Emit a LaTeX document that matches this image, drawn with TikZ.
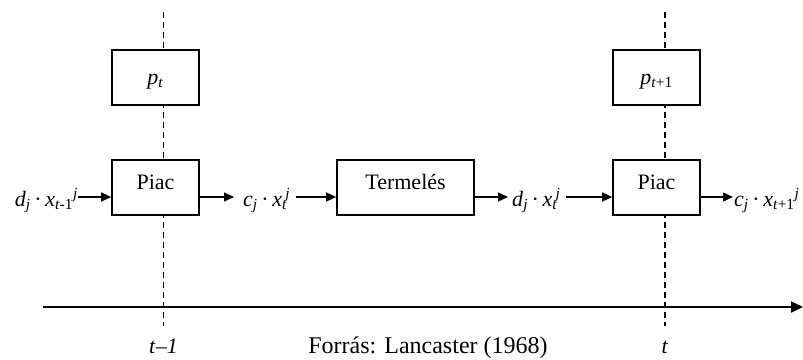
\documentclass[tikz,border=0pt]{standalone}
\usepackage{fontspec}
\setmainfont{Liberation Serif}
\usetikzlibrary{arrows.meta}
\newcommand{\ii}[1]{\textit{#1}}
\newcommand{\sdot}{\,·\,}
\begin{document}
\begin{tikzpicture}[x=1pt,y=-1pt,
  box/.style={draw,line width=1.7pt,fill=white,minimum width=87pt,minimum height=55pt,inner sep=0pt},
  txt/.style={inner sep=0pt,font=\fontsize{22}{26}\selectfont},
  srcfont/.style={inner sep=0pt,font=\fontsize{24}{28}\selectfont},
  arr/.style={-{Triangle[length=10pt,width=9pt]},line width=1.4pt},
  axisarr/.style={-{Triangle[length=12pt,width=11pt]},line width=1.9pt},
  vline/.style={line width=1.6pt,dash pattern=on 6pt off 4pt}]
\useasboundingbox (0,0) rectangle (803,359);
% vertical dashed time marks
\coordinate (v1t) at (163.5,12); \coordinate (v1b) at (163.5,326);
\coordinate (v2t) at (665,12);   \coordinate (v2b) at (665,326);
\draw[vline] (v1t) -- (v1b);
\draw[vline] (v2t) -- (v2b);
% boxes
\node[box] (pt)    at (155.5,77.5) {};
\node[box] (piac1) at (155.5,187.5) {};
\node[box,minimum width=137pt] (term) at (405.5,187.5) {};
\node[box] (pt1)   at (656.5,77.5) {};
\node[box] (piac2) at (656.5,187.5) {};
% box texts
\node[txt,anchor=base] (ptl)   at (155.5,84) {\ii{p}\textsubscript{\ii{t}}};
\node[txt,anchor=base] (pt1l)  at (656.5,84) {\ii{p}\textsubscript{\ii{t}+1}};
\node[txt,anchor=base] (p1l)   at (155.5,189) {Piac};
\node[txt,anchor=base] (terml) at (405.5,189) {Termelés};
\node[txt,anchor=base] (p2l)   at (656.5,189) {Piac};
% flow labels
\node[txt,anchor=base east] (d1) at (78,206) {\ii{d}\textsubscript{\ii{j}}\sdot\ii{x}\textsubscript{\ii{t}-1}\textsuperscript{\ii{j}}};
\node[txt,anchor=base west] (c1) at (243,206) {\ii{c}\textsubscript{\ii{j}}\sdot\ii{x}\textsubscript{\ii{t}}\kern-2pt\textsuperscript{\ii{j}}};
\node[txt,anchor=base west] (d2) at (512,206) {\ii{d}\textsubscript{\ii{j}}\sdot\ii{x}\textsubscript{\ii{t}}\kern-2pt\textsuperscript{\ii{j}}};
\node[txt,anchor=base west] (c2) at (734,206) {\ii{c}\textsubscript{\ii{j}}\sdot\ii{x}\textsubscript{\ii{t}+1}\textsuperscript{\ii{j}}};
% flow arrows
\coordinate (ay) at (0,197);
\draw[arr] (d1.east |- ay) -- (piac1.west |- ay);
\draw[arr,shorten >=9pt] (piac1.east |- ay) -- (c1.west |- ay);
\draw[arr,shorten <=6pt] (c1.east |- ay) -- (term.west |- ay);
\draw[arr,shorten >=4pt] (term.east |- ay) -- (d2.west |- ay);
\draw[arr,shorten <=5pt] (d2.east |- ay) -- (piac2.west |- ay);
\draw[arr,shorten >=1pt] (piac2.east |- ay) -- (c2.west |- ay);
% time axis
\coordinate (a0) at (43,307); \coordinate (a1) at (803,307);
\draw[axisarr] (a0) -- (a1);
\node[txt,anchor=base] (tm1) at (163.5,353) {\ii{t}–\ii{1}};
\node[txt,anchor=base] (tt)  at (665,353) {\ii{t}};
\node[srcfont,anchor=base] (src) at (428,353) {Forrás: Lancaster (1968)};
\end{tikzpicture}
\end{document}
